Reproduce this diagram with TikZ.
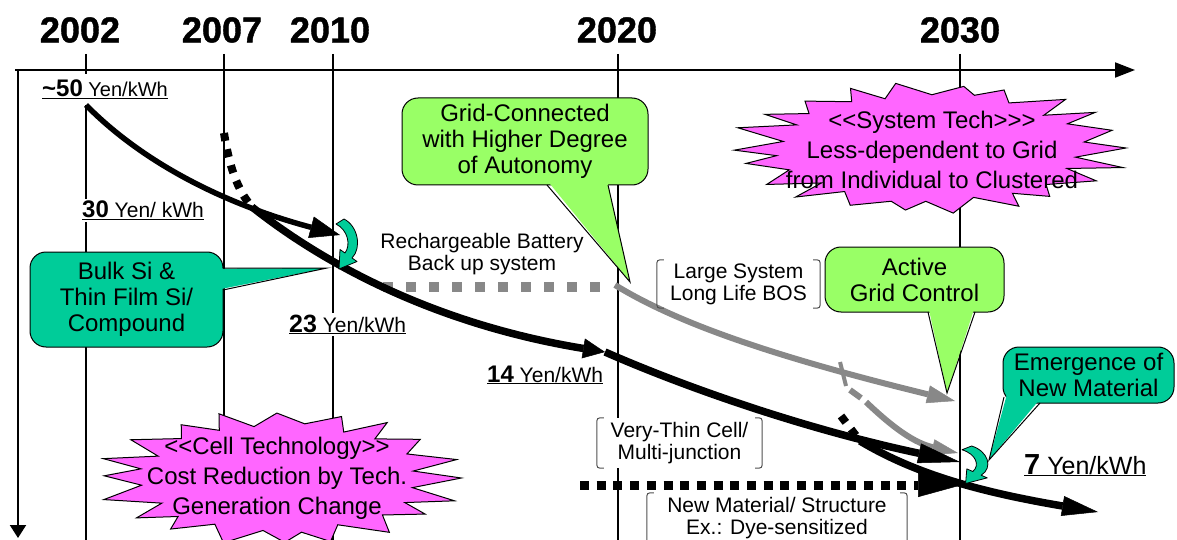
\documentclass[tikz,border=0pt]{standalone}
\usepackage{fontspec}
\setmainfont{Liberation Sans}
\newfontfamily\yearface[FakeBold=1.2]{Liberation Sans Bold}
\usetikzlibrary{arrows.meta}

\definecolor{burstpink}{HTML}{FF66FF}
\definecolor{leafgreen}{HTML}{99FF66}
\definecolor{seagreen}{HTML}{00CC99}
\definecolor{routegray}{HTML}{888888}
\definecolor{bracketgray}{HTML}{505050}

% bold price figure at a given size
\newcommand{\pnum}[2]{{\fontsize{#1}{#1}\selectfont\bfseries #2}}
% a pair of round brackets around a label node
\newcommand{\drawbrackets}[1]{%
  \draw[bracket] ([xshift=7pt]#1.north west) .. controls (#1.north west) .. ([yshift=-7pt]#1.north west)
     -- ([yshift=7pt]#1.south west) .. controls (#1.south west) .. ([xshift=7pt]#1.south west);
  \draw[bracket] ([xshift=-7pt]#1.north east) .. controls (#1.north east) .. ([yshift=-7pt]#1.north east)
     -- ([yshift=7pt]#1.south east) .. controls (#1.south east) .. ([xshift=-7pt]#1.south east);
}

\begin{document}
\begin{tikzpicture}[x=1pt,y=-1pt,
  yearlabel/.style={font=\fontsize{36}{36}\selectfont\yearface, inner sep=0pt},
  axisline/.style={line width=2pt},
  yearline/.style={line width=1.4pt},
  genthin/.style={line width=5.5pt},
  genthick/.style={line width=7.5pt},
  gendots/.style={line width=8pt, dash pattern=on 8pt off 8.5pt},
  routeline/.style={line width=6pt, routegray},
  routedots/.style={line width=10pt, routegray, dash pattern=on 10pt off 13pt},
  callout/.style={draw, line width=1pt, rounded corners=16pt, align=center,
    font=\fontsize{24}{26}\selectfont, inner sep=0pt},
  burstline/.style={draw, line width=1pt, fill=burstpink, line join=miter},
  bursttext/.style={align=center, font=\fontsize{24}{30}\selectfont, inner sep=0pt},
  note/.style={align=center, font=\fontsize{21}{22}\selectfont, inner sep=0pt},
  bracket/.style={bracketgray, line width=1pt},
  price/.style={anchor=base west, inner sep=2pt, fill=white, font=\fontsize{21}{21}\selectfont},
  edge/.style={line width=1pt, line join=miter},
  curl/.pic={
    \draw[fill=seagreen, line width=0.8pt, line join=round]
      (8,0) .. controls (22,7) and (26,29) .. (16,39) -- (21,42.5) -- (3,50)
      -- (4,30.5) -- (9,34) .. controls (15,26) and (12,11) .. (0,5) -- cycle;
  }
]
\useasboundingbox (0,0) rectangle (1177,540);

% ---------- axes ----------
\coordinate (xstart) at (15,70);
\coordinate (xend) at (1135,70);
\coordinate (origin) at (18,70);
\coordinate (yend) at (18,538);
\draw[axisline, -{Triangle[length=20pt,width=15pt]}] (xstart) -- (xend);
\draw[axisline, -{Triangle[length=13pt,width=16pt]}] (origin) -- (yend);

% ---------- years ----------
\node[yearlabel] (y2002) at (80,30) {2002};
\node[yearlabel] (y2007) at (222,30) {2007};
\node[yearlabel] (y2010) at (330,30) {2010};
\node[yearlabel] (y2020) at (617,30) {2020};
\node[yearlabel] (y2030) at (960,30) {2030};
\draw[yearline] (86,54) -- (86,74);
\draw[yearline] (86,105) -- (86,540);
\foreach \x in {224,333,618,960} \draw[yearline] (\x,54) -- (\x,540);

% ---------- grey route: battery back-up, large systems ----------
\draw[routedots] (383,287) -- (605,287);
\draw[routeline, -{Triangle[length=28pt,width=18pt,line width=0.5pt]}]
  (615,285) .. controls (680,325) and (780,358) .. (955,401);
\draw[routeline, line width=4pt] (840,362) -- (846,386);
\draw[routeline] (850,390) -- (861,398);
\draw[routeline, -{Triangle[length=26pt,width=16pt,line width=0.5pt]}]
  (866,402) .. controls (885,420) and (910,442) .. (958,453);

% ---------- cost curves of the cell generations ----------
\coordinate (p50) at (86,105);
\coordinate (g1end) at (340,235);
\coordinate (g2start) at (252,207);
\coordinate (p14) at (605,352);
\coordinate (g2end) at (960,462);
\coordinate (g3start) at (860,441);
\coordinate (g3end) at (1098,512);
\draw[genthin, -{Triangle[length=30pt,width=22pt,line width=0.5pt]}]
  (p50) .. controls (140,160) and (220,203) .. (g1end);
\draw[gendots] (224,133) .. controls (229,165) and (237,190) .. (g2start);
\draw[genthick, -{Triangle[length=22pt,width=20pt,line width=0.5pt]}]
  (g2start) .. controls (300,245) and (410,320) .. (p14);
\draw[genthick, -{Triangle[length=42pt,width=20pt,line width=0.5pt]}]
  (p14) .. controls (680,385) and (800,428) .. (g2end);
\draw[gendots] (841,416) -- (g3start);
\draw[genthick, -{Triangle[length=36pt,width=20pt,line width=0.5pt]}]
  (g3start) .. controls (915,474) and (980,492) .. (g3end);
\draw[line width=9pt, dash pattern=on 9pt off 7.7pt,
  -{Triangle[length=44pt,width=24pt,line width=0.5pt]}] (580,485) -- (962,485);

% ---------- callouts ----------
\node[callout, fill=seagreen, minimum width=193pt, minimum height=95pt] (bulk)
  at (126.5,299.5) {Bulk Si \&\\Thin Film Si/\\Compound};
\fill[seagreen] (219,268.6) -- (327,268) -- (219,289.4) -- cycle;
\draw[edge] (223,268) -- (327,268) -- (223,290);

\node[callout, fill=leafgreen, minimum width=246pt, minimum height=87pt] (gridconn)
  at (525,141.5) {Grid-Connected\\with Higher Degree\\of Autonomy};
\fill[leafgreen] (547.6,181) -- (630,282) -- (607.4,181) -- cycle;
\draw[edge] (547,185) -- (630,282) -- (608,185);

\node[callout, fill=leafgreen, minimum width=179pt, minimum height=65pt] (active)
  at (914.5,279.5) {Active\\Grid Control};
\fill[leafgreen] (928.6,308) -- (947,393) -- (974.4,308) -- cycle;
\draw[edge] (928,312) -- (947,393) -- (975,312);

\node[callout, fill=seagreen, minimum width=171pt, minimum height=56pt] (newmat)
  at (1088.5,375) {Emergence of\\New Material};
\fill[seagreen] (1007,394) -- (1040,399) -- (989,460) -- cycle;
\draw[edge] (1004,397) -- (989,460) -- (1040,403);

% ---------- starbursts: long spikes at the sides, small teeth on top and bottom ----------
\draw[burstline] plot[variable=\i, samples=44, domain=0:43]
  ({930 + (202 - 46*mod(round(\i),2))*(1-0.03*(1+sin(\i*131)))*cos(\i*180/22 + 2*sin(\i*77))},
   {148 + (66 - 11*mod(round(\i),2))*(1-0.03*(1+sin(\i*131)))*sin(\i*180/22 + 2*sin(\i*77))}) -- cycle;
\node[bursttext] (systext) at (932,150)
  {{<}{<}System Tech{>}{>}{>}\\Less-dependent to Grid\\from Individual to Clustered};
\draw[burstline] plot[variable=\i, samples=40, domain=0:39]
  ({280 + (187 - 44*mod(round(\i),2))*(1-0.03*(1+sin(\i*113)))*cos(\i*180/20 + 2*sin(\i*59))},
   {478 + (68 - 13*mod(round(\i),2))*(1-0.03*(1+sin(\i*113)))*sin(\i*180/20 + 2*sin(\i*59))}) -- cycle;
\node[bursttext] (celltext) at (277,478)
  {{<}{<}Cell Technology{>}{>}\\Cost Reduction by Tech.\\Generation Change};

% ---------- turning arrows ----------
\pic at (336,219) {curl};
\pic[xscale=1.2, yscale=0.75] at (962,446) {curl};

% ---------- notes ----------
\node[note] (battery) at (482,254) {Rechargeable Battery\\Back up system};
\node[note, minimum width=163pt, minimum height=48pt] (largesys) at (738.5,284)
  {Large System\\Long Life BOS};
\drawbrackets{largesys}
\node[note, fill=white, minimum width=165pt, minimum height=50pt] (verythin) at (679.5,443)
  {Very-Thin Cell/\\Multi-junction};
\drawbrackets{verythin}
\node[note, minimum width=260pt, minimum height=50pt] (dye) at (777,518)
  {New Material/ Structure\\Ex.: Dye-sensitized};
\drawbrackets{dye}

% ---------- prices ----------
\node[price, font=\fontsize{20}{20}\selectfont] (c50) at (40,97)
  {\underline{\pnum{24}{\textasciitilde50} Yen/kWh}};
\node[price] (c30) at (80,218) {\underline{\pnum{24}{30} Yen/ kWh}};
\node[price] (c23) at (287,332) {\underline{\pnum{25}{23} Yen/kWh}};
\node[price] (c14) at (485,382) {\underline{\pnum{24}{14} Yen/kWh}};
\node[price, font=\fontsize{25}{25}\selectfont] (c7) at (1022,474)
  {\underline{\pnum{29}{7} Yen/kWh}};
\end{tikzpicture}
\end{document}
